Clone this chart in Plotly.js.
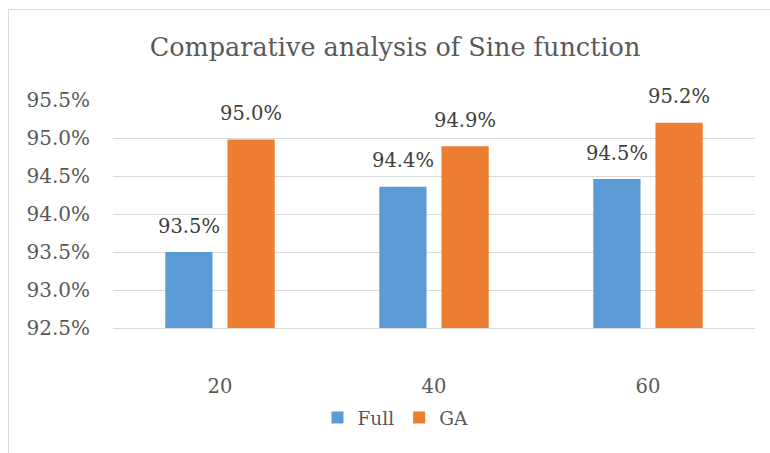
<!DOCTYPE html>
<html>
<head>
<meta charset="utf-8">
<script src="https://cdn.plot.ly/plotly-3.0.1.min.js"></script>
<style>
  html, body { margin: 0; padding: 0; background: #ffffff; overflow: hidden; }
  #wrap { position: relative; width: 770px; height: 453px; overflow: hidden; }
  #chart { position: absolute; left: 0; top: 0; width: 770px; height: 453px; }
  #frame { position: absolute; left: 8px; top: 9px; width: 800px; height: 500px;
           border: 1px solid #d9d9d9; box-sizing: border-box; pointer-events: none; }
</style>
</head>
<body>
<div id="wrap">
  <div id="chart"></div>
  <div id="frame"></div>
</div>
<script>
const categories = ["20", "40", "60"];
const seriesNames = ["Full", "GA"];
const fullValues = [0.9350, 0.9436, 0.9446];
const gaValues = [0.9498, 0.9489, 0.9520];
const yTickValues = [0.925, 0.930, 0.935, 0.940, 0.945, 0.950, 0.955];

const FONT = "'Palatino Linotype', 'Book Antiqua', Palatino, 'DejaVu Serif', serif";
const colors = ["#5B9BD5", "#ED7D31"];
const allSeries = [fullValues, gaValues];

const traces = allSeries.map((vals, i) => ({
  type: "bar",
  name: seriesNames[i],
  x: categories,
  y: vals,
  marker: { color: colors[i] },
  hoverinfo: "x+y"
}));

const annotations = [];
allSeries.forEach((vals, i) => {
  vals.forEach((v, j) => {
    annotations.push({
      x: j,
      y: v,
      xref: "x",
      yref: "y",
      text: (v * 100).toFixed(1) + "%",
      showarrow: false,
      xshift: i === 0 ? -31 : 31,
      yshift: 26,
      yanchor: "middle",
      font: { family: FONT, size: 19.5, color: "#404040" }
    });
  });
});

const layout = {
  width: 770,
  height: 453,
  margin: { l: 113, r: 15, t: 100, b: 125 },
  paper_bgcolor: "#ffffff",
  plot_bgcolor: "#ffffff",
  barmode: "group",
  bargap: 0.419,
  bargroupgap: 0.24,
  title: {
    text: "Comparative analysis of Sine function",
    x: 0.513,
    xref: "container",
    xanchor: "center",
    y: 0.896,
    yref: "container",
    yanchor: "middle",
    font: { family: FONT, size: 25.5, color: "#595959" }
  },
  xaxis: {
    type: "category",
    categoryarray: categories,
    range: [-0.5, 2.5],
    showgrid: false,
    zeroline: false,
    showline: true,
    linecolor: "#d9d9d9",
    linewidth: 1,
    ticks: "",
    ticklabelstandoff: 41,
    tickfont: { family: FONT, size: 19.5, color: "#595959" }
  },
  yaxis: {
    range: [0.925, 0.955],
    tickvals: yTickValues,
    ticktext: yTickValues.map(v => (v * 100).toFixed(1) + "%"),
    showgrid: true,
    gridcolor: "#d9d9d9",
    gridwidth: 1,
    zeroline: false,
    showline: false,
    ticks: "",
    ticklabelstandoff: 22,
    tickfont: { family: FONT, size: 20, color: "#595959" }
  },
  showlegend: true,
  legend: {
    orientation: "h",
    x: 0.44,
    xref: "paper",
    xanchor: "center",
    y: -0.395,
    yanchor: "middle",
    font: { family: FONT, size: 18.5, color: "#595959" },
    itemwidth: 30,
    traceorder: "normal"
  },
  annotations: annotations
};

Plotly.newPlot("chart", traces, layout, { displayModeBar: false, staticPlot: true });
</script>
</body>
</html>
